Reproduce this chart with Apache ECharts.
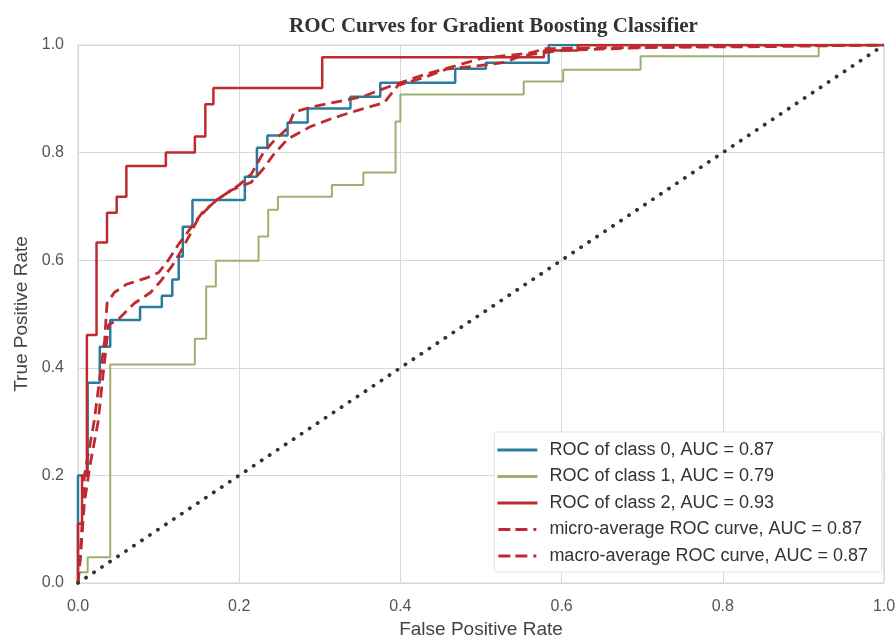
<!DOCTYPE html>
<html>
<head>
<meta charset="utf-8">
<script src="https://cdn.jsdelivr.net/npm/echarts@6/dist/echarts.min.js"></script>
<style>html,body{margin:0;padding:0;background:#fff}#c{width:896px;height:638px}</style>
</head>
<body>
<div id="c"></div>
<script>
var tickValues = [0, 0.2, 0.4, 0.6, 0.8, 1.0];
var legendNames = [
  'ROC of class 0, AUC = 0.87',
  'ROC of class 1, AUC = 0.79',
  'ROC of class 2, AUC = 0.93',
  'micro-average ROC curve, AUC = 0.87',
  'macro-average ROC curve, AUC = 0.87'
];
var roc0 = [[0,0],[0,0.2],[0.012,0.2],[0.012,0.372],[0.027,0.372],[0.027,0.439],[0.040,0.439],[0.040,0.489],[0.077,0.489],[0.077,0.513],[0.104,0.513],[0.104,0.534],[0.117,0.534],[0.117,0.564],[0.125,0.564],[0.125,0.607],[0.130,0.607],[0.130,0.662],[0.142,0.662],[0.142,0.712],[0.207,0.712],[0.207,0.755],[0.222,0.755],[0.222,0.809],[0.235,0.809],[0.235,0.832],[0.260,0.832],[0.260,0.856],[0.285,0.856],[0.285,0.882],[0.338,0.882],[0.338,0.904],[0.375,0.904],[0.375,0.930],[0.468,0.930],[0.468,0.956],[0.506,0.956],[0.506,0.967],[0.584,0.967],[0.584,1.0],[1,1]];
var roc1 = [[0,0],[0,0.02],[0.012,0.02],[0.012,0.048],[0.040,0.048],[0.040,0.406],[0.145,0.406],[0.145,0.454],[0.159,0.454],[0.159,0.551],[0.171,0.551],[0.171,0.599],[0.224,0.599],[0.224,0.644],[0.236,0.644],[0.236,0.694],[0.248,0.694],[0.248,0.718],[0.315,0.718],[0.315,0.740],[0.354,0.740],[0.354,0.763],[0.394,0.763],[0.394,0.858],[0.400,0.858],[0.400,0.908],[0.553,0.908],[0.553,0.932],[0.602,0.932],[0.602,0.954],[0.698,0.954],[0.698,0.979],[0.919,0.979],[0.919,1.0],[1,1]];
var roc2 = [[0,0],[0,0.11],[0.005,0.11],[0.005,0.2],[0.011,0.2],[0.011,0.461],[0.023,0.461],[0.023,0.633],[0.036,0.633],[0.036,0.688],[0.048,0.688],[0.048,0.718],[0.060,0.718],[0.060,0.775],[0.109,0.775],[0.109,0.8],[0.145,0.8],[0.145,0.83],[0.158,0.83],[0.158,0.89],[0.168,0.89],[0.168,0.92],[0.303,0.92],[0.303,0.977],[0.578,0.977],[0.578,0.99],[0.62,0.99],[0.62,1.0],[1,1]];
var microAvg = [[0,0],[0.003,0.05],[0.008,0.2],[0.02,0.3],[0.033,0.45],[0.036,0.52],[0.045,0.54],[0.06,0.555],[0.085,0.567],[0.1,0.577],[0.112,0.6],[0.125,0.63],[0.14,0.66],[0.155,0.69],[0.175,0.715],[0.2,0.74],[0.215,0.76],[0.23,0.80],[0.245,0.825],[0.26,0.845],[0.268,0.875],[0.29,0.885],[0.33,0.897],[0.355,0.905],[0.39,0.925],[0.43,0.945],[0.47,0.962],[0.5,0.975],[0.56,0.985],[0.58,0.993],[0.65,0.995],[0.86,0.997],[1,1]];
var macroAvg = [[0,0],[0.003,0.05],[0.008,0.15],[0.015,0.22],[0.025,0.3],[0.032,0.4],[0.038,0.48],[0.05,0.49],[0.07,0.52],[0.09,0.54],[0.102,0.56],[0.117,0.59],[0.127,0.615],[0.138,0.645],[0.15,0.68],[0.17,0.71],[0.19,0.73],[0.215,0.745],[0.23,0.77],[0.242,0.795],[0.26,0.825],[0.288,0.848],[0.318,0.865],[0.35,0.88],[0.38,0.893],[0.397,0.925],[0.43,0.94],[0.457,0.955],[0.5,0.962],[0.53,0.968],[0.55,0.98],[0.6,0.99],[0.7,0.995],[0.8,0.998],[1,1]];
var chance = [[0,0],[1,1]];

var BLUE = '#2a7c9c', GREEN = '#9cb070', RED = '#bf2a2f';
var SOLID_ICON = 'path://M0,0H40V3H0Z';
var DASH_ICON = 'path://M0,0H12V3H0ZM17,0H29V3H17ZM35,0H38V3H35Z';
var chart = echarts.init(document.getElementById('c'), null, {renderer: 'canvas'});
function axisCommon(name, gap, margin) {
  return {
    type: 'value', min: 0, max: 1, interval: 0.2,
    name: name, nameLocation: 'middle', nameGap: gap,
    nameTextStyle: {fontFamily: 'Liberation Sans', fontSize: 19, color: '#444'},
    axisLine: {show: false}, axisTick: {show: false},
    axisLabel: {fontFamily: 'Liberation Sans', fontSize: 16, color: '#555', margin: margin,
      formatter: function (v) { return v.toFixed(1); }},
    splitLine: {show: true, lineStyle: {color: '#d8d8d8', width: 1}}
  };
}
function lineS(name, data, color, width, type) {
  return {name: name, type: 'line', data: data, showSymbol: false, symbol: 'none',
    lineStyle: {color: color, width: width, type: type || 'solid'},
    itemStyle: {color: color}, silent: true, animation: false, z: 3};
}
chart.setOption({
  animation: false,
  backgroundColor: '#fff',
  title: {text: 'ROC Curves for Gradient Boosting Classifier', left: 284, top: 11,
    textStyle: {fontFamily: 'Liberation Serif', fontWeight: 'bold', fontSize: 21, color: '#333'}},
  grid: {left: 78, right: 12, top: 45, bottom: 55, show: true, borderColor: '#cfcfcf', borderWidth: 1,
    containLabel: false, outerBoundsMode: 'none'},
  xAxis: axisCommon('False Positive Rate', 36, 16),
  yAxis: axisCommon('True Positive Rate', 47, 14),
  legend: {
    data: [
      {name: legendNames[0], icon: SOLID_ICON},
      {name: legendNames[1], icon: SOLID_ICON},
      {name: legendNames[2], icon: SOLID_ICON},
      {name: legendNames[3], icon: DASH_ICON},
      {name: legendNames[4], icon: DASH_ICON}
    ],
    orient: 'vertical', right: 14, bottom: 66,
    itemWidth: 40, itemHeight: 3, itemGap: 6.5,
    backgroundColor: '#fff', borderColor: '#e2e2e2', borderWidth: 1, borderRadius: 3,
    padding: [8, 14, 6, 3],
    textStyle: {fontFamily: 'Liberation Sans', fontSize: 18, lineHeight: 20, color: '#333', padding: [0, 0, 0, 7]}
  },
  series: [
    lineS(legendNames[0], roc0, BLUE, 2.5),
    lineS(legendNames[1], roc1, GREEN, 2),
    lineS(legendNames[2], roc2, RED, 2.5),
    lineS(legendNames[3], microAvg, RED, 2.8, [11, 6]),
    lineS(legendNames[4], macroAvg, RED, 2.8, [11, 6]),
    {type: 'line', data: chance, showSymbol: false, symbol: 'none', silent: true,
      lineStyle: {color: '#333', width: 3.8, type: [0.1, 9.5], cap: 'round'}, z: 4}
  ]
});
</script>
</body>
</html>
